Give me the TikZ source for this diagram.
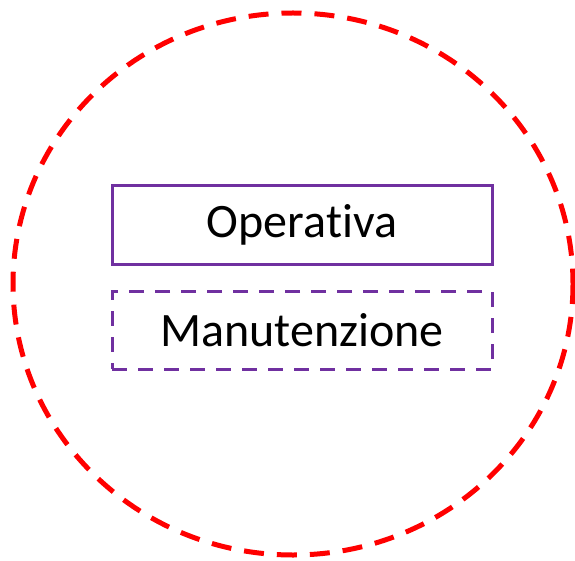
\documentclass[tikz,border=0pt]{standalone}
\usepackage{fontspec}
\setmainfont[Ligatures=NoCommon]{Carlito}
\definecolor{boxpurple}{HTML}{7030A0}
\definecolor{ringred}{HTML}{FF0000}
\begin{document}
\begin{tikzpicture}[x=1pt,y=-1pt,
  ring/.style={draw=ringred, line width=5pt, dash pattern=on 20pt off 13pt},
  rolebox/.style={draw=boxpurple, line width=3pt, minimum width=380pt, minimum height=78pt, inner sep=0pt, font=\fontsize{48}{54}\selectfont},
  dashedbox/.style={rolebox, dash pattern=on 15pt off 11pt}]
\useasboundingbox (0,0) rectangle (575,561);
\draw[ring] (293,284) ellipse [x radius=280, y radius=271];
\node[rolebox] (op) at (302,225) {Operativa};
\node[dashedbox] (man) at (302,330) {Manutenzione};
\end{tikzpicture}
\end{document}
